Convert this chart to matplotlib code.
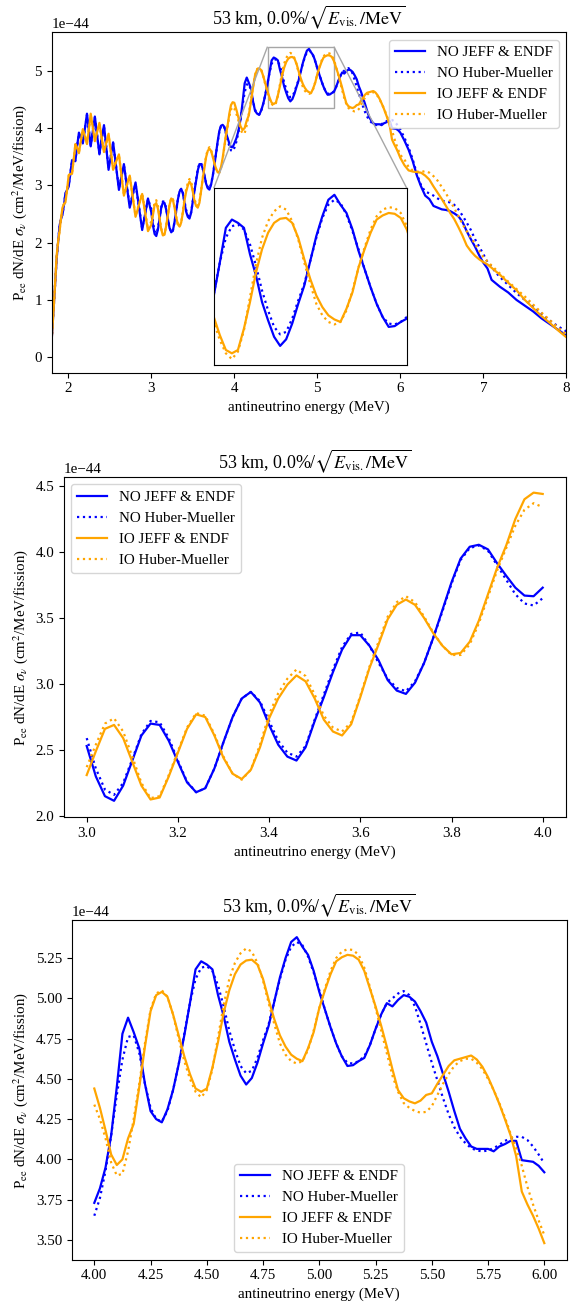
import numpy as np
import matplotlib.pyplot as plt
from mpl_toolkits.axes_grid1.inset_locator import mark_inset

plt.rcParams['font.family'] = ['Liberation Serif', 'DejaVu Serif']
plt.rcParams['mathtext.fontset'] = 'stix'
plt.rcParams['font.size'] = 10.8

# antineutrino energy grid (MeV)
energy = [
    1.80, 1.83, 1.86, 1.88, 1.895, 1.91, 1.93, 1.95, 1.965, 1.985,
    2.005, 2.025, 2.045, 2.065, 2.085, 2.105, 2.128, 2.15, 2.175, 2.20,
    2.225, 2.248, 2.27, 2.295, 2.32, 2.348, 2.375, 2.40, 2.43, 2.458,
    2.485, 2.512, 2.54, 2.575, 2.61, 2.64, 2.67, 2.705, 2.74, 2.775,
    2.81, 2.85, 2.89, 2.925, 2.96,
    3.00, 3.02, 3.04, 3.06, 3.08, 3.10, 3.12, 3.14, 3.16, 3.18,
    3.20, 3.22, 3.24, 3.26, 3.28, 3.30, 3.32, 3.34, 3.36, 3.38,
    3.40, 3.42, 3.44, 3.46, 3.48, 3.50, 3.52, 3.54, 3.56, 3.58,
    3.60, 3.62, 3.64, 3.66, 3.68, 3.70, 3.72, 3.74, 3.76, 3.78,
    3.80, 3.82, 3.84, 3.86, 3.88, 3.90, 3.92, 3.94, 3.96, 3.98, 4.00,
    4.025, 4.05, 4.075, 4.10, 4.125, 4.15, 4.175, 4.20, 4.225, 4.25,
    4.275, 4.30, 4.325, 4.35, 4.375, 4.40, 4.425, 4.45, 4.475, 4.50,
    4.525, 4.55, 4.575, 4.60, 4.625, 4.65, 4.675, 4.70, 4.725, 4.75,
    4.775, 4.80, 4.825, 4.85, 4.875, 4.90, 4.925, 4.95, 4.975, 5.00,
    5.025, 5.05, 5.075, 5.10, 5.125, 5.15, 5.175, 5.20, 5.225, 5.25,
    5.275, 5.30, 5.325, 5.35, 5.375, 5.40, 5.425, 5.45, 5.475, 5.50,
    5.525, 5.55, 5.575, 5.60, 5.625, 5.65, 5.675, 5.70, 5.725, 5.75,
    5.775, 5.80, 5.825, 5.85, 5.875, 5.90, 5.925, 5.95, 5.975, 6.00,
    6.05, 6.10, 6.15, 6.20, 6.25, 6.30, 6.35, 6.40, 6.45, 6.50,
    6.55, 6.60, 6.65, 6.70, 6.75, 6.80, 6.85, 6.90, 6.95, 7.00,
    7.05, 7.10, 7.15, 7.20, 7.30, 7.40, 7.50, 7.60, 7.70, 7.80, 7.90, 8.00,
]

# P_ee dN/dE sigma, in units of 1e-44 cm^2/MeV/fission
no_jeff = [
    0.30, 1.00, 1.72, 2.05, 2.30, 2.40, 2.49, 2.68, 2.86, 2.92,
    2.98, 3.21, 3.44, 3.43, 3.42, 3.67, 3.92, 3.83, 3.73, 3.99,
    4.25, 3.96, 3.68, 3.94, 4.20, 3.87, 3.54, 3.80, 4.05, 3.66,
    3.27, 3.51, 3.75, 3.34, 2.92, 3.15, 3.37, 2.99, 2.61, 2.83,
    3.05, 2.64, 2.22, 2.50, 2.77,
    2.53, 2.30, 2.15, 2.115, 2.23, 2.42, 2.61, 2.70, 2.69, 2.57,
    2.41, 2.255, 2.18, 2.21, 2.36, 2.56, 2.75, 2.89, 2.94, 2.86,
    2.69, 2.54, 2.45, 2.42, 2.52, 2.72, 2.90, 3.09, 3.26, 3.37,
    3.37, 3.29, 3.18, 3.03, 2.95, 2.925, 3.01, 3.16, 3.35, 3.56,
    3.77, 3.95, 4.04, 4.055, 4.02, 3.915, 3.82, 3.73, 3.67, 3.665, 3.73,
    3.82, 3.95, 4.15, 4.45, 4.78, 4.88, 4.79, 4.69, 4.47, 4.30,
    4.25, 4.23, 4.31, 4.43, 4.59, 4.77, 4.97, 5.18, 5.23, 5.21,
    5.18, 5.02, 4.89, 4.73, 4.62, 4.52, 4.465, 4.505, 4.60, 4.72,
    4.83, 4.98, 5.13, 5.25, 5.35, 5.38, 5.32, 5.27, 5.17, 5.04,
    4.93, 4.82, 4.72, 4.64, 4.58, 4.585, 4.61, 4.63, 4.71, 4.81,
    4.90, 4.97, 4.95, 4.99, 5.02, 5.01, 4.98, 4.92, 4.85, 4.73,
    4.64, 4.53, 4.42, 4.30, 4.19, 4.13, 4.08, 4.065, 4.065, 4.065,
    4.05, 4.08, 4.095, 4.115, 4.115, 3.995, 3.99, 3.985, 3.96, 3.92,
    3.78, 3.62, 3.42, 3.17, 2.98, 2.82, 2.76, 2.64, 2.61, 2.58,
    2.57, 2.55, 2.51, 2.46, 2.36, 2.20, 2.06, 1.93, 1.78, 1.65,
    1.55, 1.35, 1.29, 1.23, 1.13, 1.00, 0.90, 0.80, 0.68, 0.58, 0.48, 0.38,
]

no_hm = [
    0.30, 1.00, 1.73, 2.05, 2.29, 2.40, 2.50, 2.68, 2.85, 2.92,
    3.00, 3.21, 3.43, 3.43, 3.44, 3.67, 3.90, 3.83, 3.75, 3.99,
    4.23, 3.96, 3.70, 3.94, 4.18, 3.87, 3.56, 3.80, 4.03, 3.66,
    3.30, 3.51, 3.73, 3.34, 2.95, 3.15, 3.35, 2.99, 2.64, 2.83,
    3.03, 2.64, 2.25, 2.50, 2.76,
    2.59, 2.36, 2.20, 2.16, 2.25, 2.43, 2.62, 2.72, 2.71, 2.59,
    2.42, 2.26, 2.18, 2.21, 2.36, 2.56, 2.75, 2.89, 2.94, 2.87,
    2.72, 2.57, 2.48, 2.45, 2.53, 2.73, 2.92, 3.11, 3.28, 3.38,
    3.39, 3.29, 3.16, 3.04, 2.97, 2.945, 3.02, 3.16, 3.35, 3.55,
    3.76, 3.94, 4.03, 4.05, 4.01, 3.90, 3.79, 3.68, 3.61, 3.595, 3.65,
    3.76, 3.93, 4.15, 4.40, 4.62, 4.76, 4.77, 4.66, 4.47, 4.32,
    4.25, 4.235, 4.30, 4.43, 4.59, 4.78, 4.97, 5.12, 5.19, 5.20,
    5.17, 5.08, 4.95, 4.80, 4.68, 4.58, 4.535, 4.55, 4.63, 4.74,
    4.84, 4.98, 5.12, 5.24, 5.32, 5.35, 5.33, 5.26, 5.16, 5.05,
    4.93, 4.82, 4.72, 4.64, 4.60, 4.595, 4.61, 4.64, 4.71, 4.81,
    4.90, 4.97, 5.00, 5.03, 5.045, 5.02, 4.95, 4.84, 4.72, 4.60,
    4.49, 4.38, 4.28, 4.20, 4.14, 4.10, 4.07, 4.055, 4.05, 4.055,
    4.07, 4.09, 4.115, 4.13, 4.14, 4.14, 4.12, 4.08, 4.03, 3.975,
    3.83, 3.66, 3.45, 3.20, 3.00, 2.89, 2.86, 2.82, 2.77, 2.73,
    2.72, 2.70, 2.66, 2.58, 2.47, 2.35, 2.22, 2.06, 1.93, 1.80,
    1.66, 1.58, 1.48, 1.40, 1.26, 1.12, 1.00, 0.88, 0.76, 0.64, 0.54, 0.45,
]

io_jeff = [
    0.30, 1.00, 1.78, 2.05, 2.20, 2.40, 2.61, 2.68, 2.70, 2.92,
    3.18, 3.20, 3.20, 3.45, 3.72, 3.66, 3.56, 3.77, 3.98, 3.85,
    3.72, 3.98, 4.25, 4.01, 3.77, 3.93, 4.09, 3.84, 3.58, 3.74,
    3.90, 3.59, 3.27, 3.41, 3.54, 3.18, 2.82, 3.00, 3.17, 2.81,
    2.45, 2.65, 2.85, 2.53, 2.20,
    2.31, 2.49, 2.66, 2.69, 2.59, 2.41, 2.23, 2.125, 2.14, 2.30,
    2.48, 2.66, 2.77, 2.75, 2.61, 2.44, 2.32, 2.28, 2.35, 2.52,
    2.74, 2.89, 2.995, 3.065, 3.02, 2.89, 2.73, 2.64, 2.61, 2.695,
    2.90, 3.12, 3.30, 3.49, 3.60, 3.64, 3.60, 3.50, 3.385, 3.29,
    3.225, 3.235, 3.32, 3.48, 3.68, 3.88, 4.05, 4.25, 4.40, 4.45, 4.44,
    4.32, 4.18, 4.03, 3.965, 4.00, 4.13, 4.22, 4.45, 4.70, 4.92,
    5.02, 5.04, 5.01, 4.90, 4.77, 4.64, 4.53, 4.44, 4.42, 4.44,
    4.57, 4.73, 4.91, 5.05, 5.15, 5.21, 5.235, 5.24, 5.21, 5.12,
    4.99, 4.87, 4.77, 4.70, 4.65, 4.625, 4.61, 4.69, 4.79, 4.94,
    5.05, 5.15, 5.23, 5.255, 5.27, 5.265, 5.24, 5.17, 5.06, 4.95,
    4.83, 4.70, 4.56, 4.43, 4.38, 4.36, 4.348, 4.365, 4.40, 4.41,
    4.47, 4.525, 4.58, 4.615, 4.625, 4.635, 4.645, 4.62, 4.575, 4.51,
    4.43, 4.345, 4.25, 4.15, 4.02, 3.80, 3.72, 3.65, 3.57, 3.48,
    3.35, 3.26, 3.24, 3.23, 3.22, 3.17, 3.10, 2.98, 2.87, 2.76,
    2.64, 2.52, 2.41, 2.27, 2.12, 1.95, 1.85, 1.77, 1.71, 1.66,
    1.62, 1.56, 1.50, 1.44, 1.30, 1.17, 1.00, 0.86, 0.72, 0.60, 0.47, 0.35,
]

io_hm = [
    0.30, 1.00, 1.77, 2.05, 2.21, 2.40, 2.60, 2.68, 2.71, 2.92,
    3.16, 3.20, 3.22, 3.45, 3.70, 3.66, 3.58, 3.77, 3.97, 3.85,
    3.74, 3.98, 4.22, 4.00, 3.79, 3.93, 4.07, 3.84, 3.60, 3.74,
    3.88, 3.59, 3.29, 3.41, 3.53, 3.18, 2.84, 3.00, 3.17, 2.81,
    2.47, 2.66, 2.86, 2.54, 2.23,
    2.37, 2.54, 2.70, 2.74, 2.64, 2.45, 2.25, 2.135, 2.15, 2.31,
    2.49, 2.67, 2.78, 2.76, 2.62, 2.45, 2.32, 2.275, 2.35, 2.54,
    2.77, 2.93, 3.04, 3.11, 3.06, 2.92, 2.76, 2.67, 2.64, 2.71,
    2.91, 3.13, 3.32, 3.51, 3.62, 3.665, 3.62, 3.51, 3.39, 3.29,
    3.22, 3.22, 3.30, 3.46, 3.66, 3.86, 4.03, 4.20, 4.32, 4.37, 4.34,
    4.25, 4.13, 3.98, 3.90, 3.91, 4.05, 4.25, 4.47, 4.72, 4.93,
    5.03, 5.05, 5.01, 4.90, 4.75, 4.61, 4.50, 4.42, 4.385, 4.43,
    4.56, 4.76, 4.96, 5.12, 5.22, 5.28, 5.31, 5.29, 5.22, 5.11,
    4.97, 4.84, 4.72, 4.65, 4.61, 4.595, 4.61, 4.68, 4.80, 4.94,
    5.06, 5.17, 5.25, 5.29, 5.305, 5.30, 5.27, 5.19, 5.07, 4.94,
    4.80, 4.66, 4.52, 4.42, 4.35, 4.32, 4.30, 4.29, 4.295, 4.33,
    4.40, 4.47, 4.53, 4.58, 4.61, 4.625, 4.625, 4.60, 4.56, 4.50,
    4.43, 4.35, 4.26, 4.16, 4.07, 3.96, 3.83, 3.72, 3.62, 3.53,
    3.45, 3.32, 3.26, 3.24, 3.23, 3.25, 3.22, 3.16, 3.08, 2.97,
    2.86, 2.73, 2.60, 2.46, 2.32, 2.20, 2.09, 1.98, 1.86, 1.75,
    1.67, 1.60, 1.53, 1.46, 1.32, 1.19, 1.06, 0.92, 0.78, 0.65, 0.52, 0.40,
]

e = np.array(energy)
scale = 1e-44
series = [
    (np.array(no_jeff) * scale, 'blue', '-', 'NO JEFF & ENDF'),
    (np.array(no_hm) * scale, 'blue', ':', 'NO Huber-Mueller'),
    (np.array(io_jeff) * scale, 'orange', '-', 'IO JEFF & ENDF'),
    (np.array(io_hm) * scale, 'orange', ':', 'IO Huber-Mueller'),
]

title = r'53 km, 0.0%/$\sqrt{E_{\rm vis.}/{\rm MeV}}$'
ylab = r'P$_{\rm ee}$ dN/dE $\sigma_\nu$ (cm$^2$/MeV/fission)'
xlab = 'antineutrino energy (MeV)'


def draw(ax, lo, hi, label=True):
    m = (e >= lo - 1e-9) & (e <= hi + 1e-9)
    for y, c, ls, name in series:
        ax.plot(e[m], y[m], c=c, ls=ls, lw=1.6, label=name if label else None)


W, H = 571, 1302
fig = plt.figure(figsize=(W / 100, H / 100), dpi=100)


def box(l, r, t, b):
    return [l / W, 1 - b / H, (r - l) / W, (b - t) / H]


# top: full range with zoom inset
ax1 = fig.add_axes(box(51.7, 566.3, 32.3, 372.7))
draw(ax1, 1.8, 8.0)
ax1.set_xlim(1.8, 8.0)
ax1.set_ylim(-0.27e-44, 5.67e-44)
ax1.set_title(title, fontsize=13)
ax1.set_xlabel(xlab)
ax1.set_ylabel(ylab)
ax1.legend(loc='upper right')

axins = ax1.inset_axes([0.315, 0.023, 0.375, 0.519])
draw(axins, 1.8, 8.0, label=False)
axins.set_xlim(4.4, 5.2)
axins.set_ylim(4.35e-44, 5.42e-44)
axins.set_xticks([])
axins.set_yticks([])
mark_inset(ax1, axins, loc1=2, loc2=1, fc='none', ec='0.65')

# middle: 3 - 4 MeV
ax2 = fig.add_axes(box(63.9, 565.5, 476.8, 817.3))
draw(ax2, 3.0, 4.0)
ax2.set_xlim(2.95, 4.05)
ax2.set_ylim(1.99e-44, 4.57e-44)
ax2.set_title(title, fontsize=13)
ax2.set_xlabel(xlab)
ax2.set_ylabel(ylab)
ax2.legend(loc='upper left')

# bottom: 4 - 6 MeV
ax3 = fig.add_axes(box(71.8, 566.8, 920.4, 1259.7))
draw(ax3, 4.0, 6.0)
ax3.set_xlim(3.9, 6.1)
ax3.set_ylim(3.377e-44, 5.484e-44)
ax3.set_title(title, fontsize=13)
ax3.set_xlabel(xlab)
ax3.set_ylabel(ylab)
ax3.legend(loc='lower center')

fig.savefig('out.png', dpi=100)
